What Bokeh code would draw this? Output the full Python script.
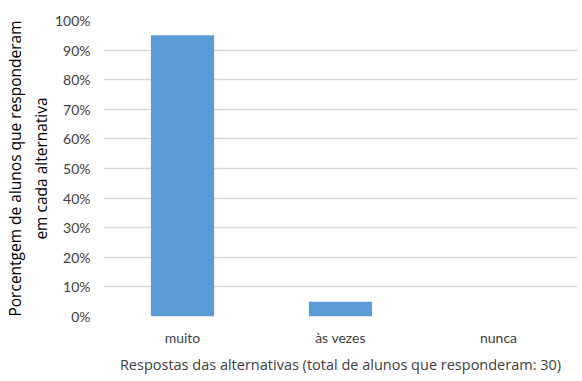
from bokeh.plotting import figure
from bokeh.models import FixedTicker, NumeralTickFormatter, Range1d
from bokeh.embed import file_html
from bokeh.resources import INLINE

categories = ["muito", "às vezes", "nunca"]
values = [0.95, 0.05, 0.0]
y_ticks = [0.0, 0.1, 0.2, 0.3, 0.4, 0.5, 0.6, 0.7, 0.8, 0.9, 1.0]

p = figure(x_range=categories, width=582, height=381, output_backend="svg",
           toolbar_location=None, min_border_left=98, min_border_right=5,
           min_border_top=20, min_border_bottom=65)
p.y_range = Range1d(0, 1)
p.vbar(x=categories, top=values, width=0.4, fill_color="#5B9BD5", line_color=None)

p.outline_line_color = None
p.xgrid.grid_line_color = None
p.ygrid.grid_line_color = "#D9D9D9"
p.ygrid.grid_line_width = 1.5
p.yaxis.ticker = FixedTicker(ticks=y_ticks)
p.yaxis.formatter = NumeralTickFormatter(format="0%")

for ax in (p.xaxis, p.yaxis):
    ax.axis_line_color = None
    ax.major_tick_line_color = None
    ax.minor_tick_line_color = None
    ax.major_label_text_font = "Lato"
    ax.major_label_text_font_size = "14px"
    ax.major_label_text_color = "#404040"
    ax.axis_label_text_font = "Open Sans"
    ax.axis_label_text_font_style = "normal"
    ax.axis_label_text_font_size = "14.5px"

p.yaxis.major_label_standoff = 7
p.xaxis.major_label_standoff = 6
p.yaxis.axis_label = "Porcentgem de alunos que responderam\nem cada alternativa"
p.yaxis.axis_label_text_color = "#000000"
p.yaxis.axis_label_text_font_size = "15.5px"
p.xaxis.axis_label = "Respostas das alternativas (total de alunos que responderam: 30)"
p.xaxis.axis_label_text_color = "#404040"
p.xaxis.axis_label_standoff = 6
p.yaxis.axis_label_standoff = 0

open("out.html", "w").write(file_html(p, INLINE))
